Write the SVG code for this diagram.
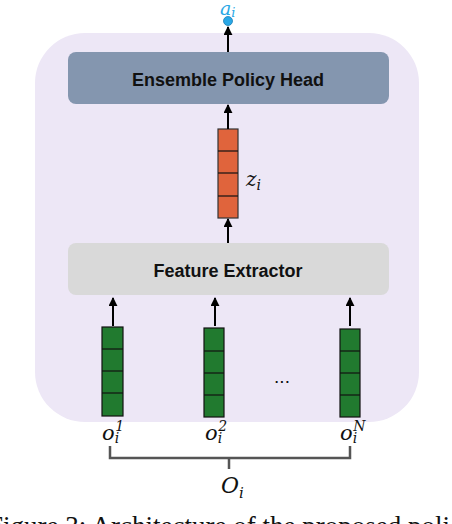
<svg xmlns="http://www.w3.org/2000/svg" width="452" height="524" viewBox="0 0 452 524">
<defs>
<style>
.lbl{font-family:"Liberation Sans","Open Sans",sans-serif;font-weight:bold;font-size:18px;fill:#111;text-anchor:middle}
.m{font-family:"DejaVu Serif","Liberation Serif",serif;font-style:italic;fill:#111}
.conn{stroke:#000;stroke-width:2;fill:none}
.g{fill:#217a2f;stroke:#111;stroke-width:1.2}
.o{fill:#e0643c;stroke:#333;stroke-width:1.2}
.cell{stroke:#111;stroke-width:1.2}
</style>
<marker id="ah" viewBox="0 0 10 10" refX="9" refY="5" markerWidth="4.5" markerHeight="4.5" orient="auto">
<path d="M0,0 L10,5 L0,10 z" fill="#000"/>
</marker>
</defs>
<rect width="452" height="524" fill="#fff"/>
<g id="panel"><rect x="35" y="33" width="384" height="389" rx="50" fill="#ede7f6"/></g>
<g id="head"><rect x="68" y="52" width="321" height="52" rx="8" fill="#8496af"/><text class="lbl" x="228" y="86">Ensemble Policy Head</text></g>
<g id="extractor"><rect x="68" y="243" width="321" height="52" rx="8" fill="#d9d9d9"/><text class="lbl" x="228" y="277">Feature Extractor</text></g>
<g id="z">
<rect class="o" x="218" y="129" width="20" height="89"/>
<line class="cell" x1="218" y1="151" x2="238" y2="151"/><line class="cell" x1="218" y1="173" x2="238" y2="173"/><line class="cell" x1="218" y1="196" x2="238" y2="196"/>
<text class="m" x="246" y="186" font-size="20">z<tspan font-size="14" dy="4">i</tspan></text>
</g>
<g id="v1">
<rect class="g" x="102" y="327" width="21" height="89"/>
<line class="cell" x1="102" y1="349" x2="123" y2="349"/><line class="cell" x1="102" y1="371" x2="123" y2="371"/><line class="cell" x1="102" y1="393" x2="123" y2="393"/>
</g>
<g id="v2">
<rect class="g" x="204" y="328" width="20" height="89"/>
<line class="cell" x1="204" y1="351" x2="224" y2="351"/><line class="cell" x1="204" y1="373" x2="224" y2="373"/><line class="cell" x1="204" y1="395" x2="224" y2="395"/>
</g>
<g id="vN">
<rect class="g" x="340" y="329" width="20" height="88"/>
<line class="cell" x1="340" y1="351" x2="360" y2="351"/><line class="cell" x1="340" y1="373" x2="360" y2="373"/><line class="cell" x1="340" y1="395" x2="360" y2="395"/>
</g>
<g id="ai">
<circle cx="228" cy="21" r="4.5" fill="#29a8e6" stroke="#1d7fb5" stroke-width="0.8"/>
<text class="m" x="220" y="15" font-size="19" style="fill:#29a8e6">a<tspan font-size="13" dy="2">i</tspan></text>
</g>
<g id="connectors">
<line class="conn" x1="228" y1="52" x2="228" y2="27" marker-end="url(#ah)"/>
<line class="conn" x1="228" y1="129" x2="228" y2="105" marker-end="url(#ah)"/>
<line class="conn" x1="228" y1="243" x2="228" y2="219" marker-end="url(#ah)"/>
<line class="conn" x1="113" y1="326" x2="113" y2="298" marker-end="url(#ah)"/>
<line class="conn" x1="215" y1="326" x2="215" y2="298" marker-end="url(#ah)"/>
<line class="conn" x1="350" y1="326" x2="350" y2="298" marker-end="url(#ah)"/>
<path d="M110,446 V458 H350 V446 M229,458 V469" stroke="#555" stroke-width="2.5" fill="none"/>
</g>
<text x="282" y="383" font-family="Liberation Sans,sans-serif" font-size="19" text-anchor="middle" fill="#111">...</text>
<text class="m" x="102" y="440" font-size="21">o<tspan font-size="14" dy="3">i</tspan><tspan font-size="14" dx="-4" dy="-12">1</tspan></text>
<text class="m" x="205" y="440" font-size="21">o<tspan font-size="14" dy="3">i</tspan><tspan font-size="14" dx="-4" dy="-12">2</tspan></text>
<text class="m" x="340" y="440" font-size="21">o<tspan font-size="14" dy="3">i</tspan><tspan font-size="14" dx="-4" dy="-12">N</tspan></text>
<text class="m" x="221" y="493" font-size="22">O<tspan font-size="15" dy="5">i</tspan></text>
<text x="-12" y="535" font-family="Liberation Serif,serif" font-size="27" fill="#111">Figure 3: Architecture of the proposed policy</text>
</svg>
